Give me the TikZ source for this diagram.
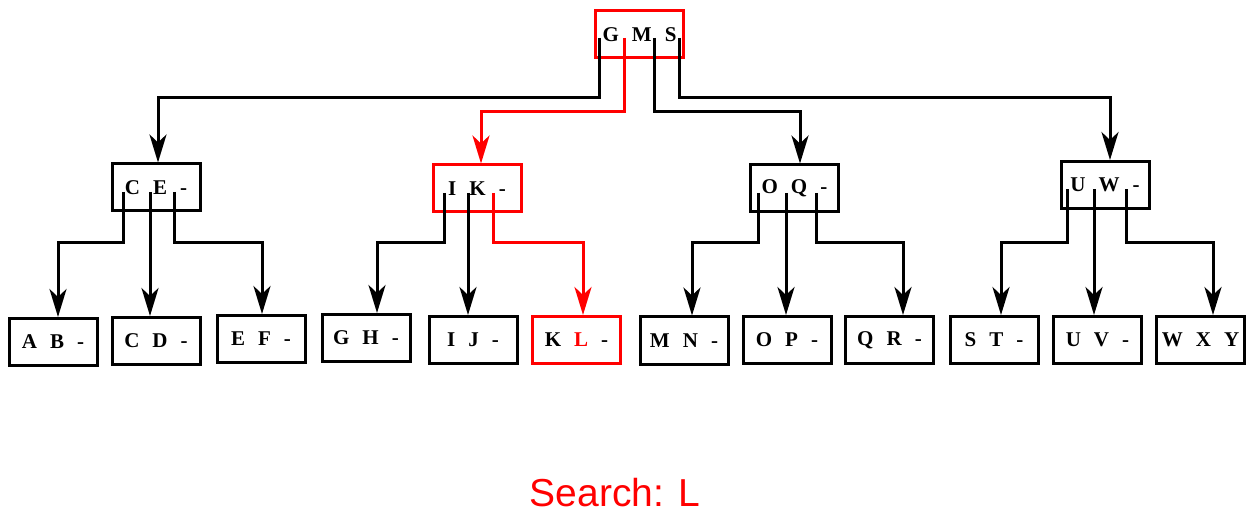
\documentclass[tikz,border=0pt]{standalone}
\usepackage{fontspec}
\setmainfont{Liberation Serif}
\newfontfamily\captionfont{Liberation Sans}
\usetikzlibrary{arrows.meta,calc}
\definecolor{hit}{RGB}{255,0,0}
\tikzset{every picture/.style={line width=2.25pt}}
\tikzset{
  keybox/.style={draw, minimum width=66pt, minimum height=35.25pt, inner sep=0pt,
    font=\fontsize{15.75}{18}\selectfont\bfseries},
  ptr/.style={-{Stealth[length=21pt,width=12.75pt,inset=6pt]}},
}
\newcommand{\keyrow}[3]{#1\hspace{.62em}#2\hspace{.62em}#3}

\begin{document}
\begin{tikzpicture}[x=0.75pt,y=0.75pt,yscale=-1,xscale=1]
	\useasboundingbox (0,0) rectangle (1253,513);

	% Root
	\node [keybox, draw=hit] (gms) at (639.5,34.5) {\keyrow{G}{M}{S}};
	% Inner nodes
	\node [keybox] (ce) at (156,187.5) {\keyrow{C}{E}{-}};
	\node [keybox, draw=hit] (ik) at (477,188.5) {\keyrow{I}{K}{-}};
	\node [keybox] (oq) at (794.5,188.5) {\keyrow{O}{Q}{-}};
	\node [keybox] (uw) at (1105,185) {\keyrow{U}{W}{-}};
	% Leaves
	\node [keybox] (ab) at (53,342) {\keyrow{A}{B}{-}};
	\node [keybox] (cd) at (156,341) {\keyrow{C}{D}{-}};
	\node [keybox] (ef) at (261,339) {\keyrow{E}{F}{-}};
	\node [keybox] (gh) at (366,338) {\keyrow{G}{H}{-}};
	\node [keybox] (ij) at (473,340) {\keyrow{I}{J}{-}};
	\node [keybox, draw=hit] (kl) at (576.5,340) {\keyrow{K}{\textcolor{hit}{L}}{-}};
	\node [keybox] (mn) at (684,340.5) {\keyrow{M}{N}{-}};
	\node [keybox] (op) at (787,340) {\keyrow{O}{P}{-}};
	\node [keybox] (qr) at (889.5,340) {\keyrow{Q}{R}{-}};
	\node [keybox] (st) at (994,340) {\keyrow{S}{T}{-}};
	\node [keybox] (uv) at (1097.5,340) {\keyrow{U}{V}{-}};
	\node [keybox] (wxy) at (1200.5,340) {\keyrow{W}{X}{Y}};

	% Root pointers
	\draw [ptr] ($(gms)+(-40,3.5)$) -- ++(0,60) -| ($(ce.north)+(2,0)$);
	\draw [ptr, hit] ($(gms)+(-15.5,3.5)$) -- ++(0,74) -| ($(ik.north)+(4,0)$);
	\draw [ptr] ($(gms)+(14.5,3.5)$) -- ++(0,74) -| ($(oq.north)+(5.5,0)$);
	\draw [ptr] ($(gms)+(39.5,3.5)$) -- ++(0,60) -| ($(uw.north)+(5,0)$);

	% Pointers of C E
	\draw [ptr] ($(ce)+(-33,4.5)$) -- ++(0,51) -| ($(ab.north)+(5,0)$);
	\draw [ptr] ($(ce)+(-6,4.5)$) coordinate (ce1) -- (ce1 |- cd.north);
	\draw [ptr] ($(ce)+(18,4.5)$) -- ++(0,51) -| ($(ef.north)+(1,0)$);
	% Pointers of I K
	\draw [ptr] ($(ik)+(-33,4.5)$) -- ++(0,50) -| ($(gh.north)+(11,0)$);
	\draw [ptr] ($(ik)+(-9,4.5)$) coordinate (ik1) -- (ik1 |- ij.north);
	\draw [ptr, hit] ($(ik)+(16,4.5)$) -- ++(0,50) -| ($(kl.north)+(6.5,0)$);
	% Pointers of O Q
	\draw [ptr] ($(oq)+(-36.5,4.5)$) -- ++(0,50) -| ($(mn.north)+(8,0)$);
	\draw [ptr] ($(oq)+(-8.5,4.5)$) coordinate (oq1) -- (oq1 |- op.north);
	\draw [ptr] ($(oq)+(21.5,4.5)$) -- ++(0,50) -| ($(qr.north)+(13.5,0)$);
	% Pointers of U W
	\draw [ptr] ($(uw)+(-38,4.5)$) -- ++(0,53.5) -| ($(st.north)+(7,0)$);
	\draw [ptr] ($(uw)+(-11,4.5)$) coordinate (uw1) -- (uw1 |- uv.north);
	\draw [ptr] ($(uw)+(21,4.5)$) -- ++(0,53.5) -| ($(wxy.north)+(12.5,0)$);

	% Text Node
	\node [font=\captionfont\fontsize{29.25}{34}\selectfont, text=hit, anchor=base] (search) at (615,506) {Search: L};

\end{tikzpicture}
\end{document}
